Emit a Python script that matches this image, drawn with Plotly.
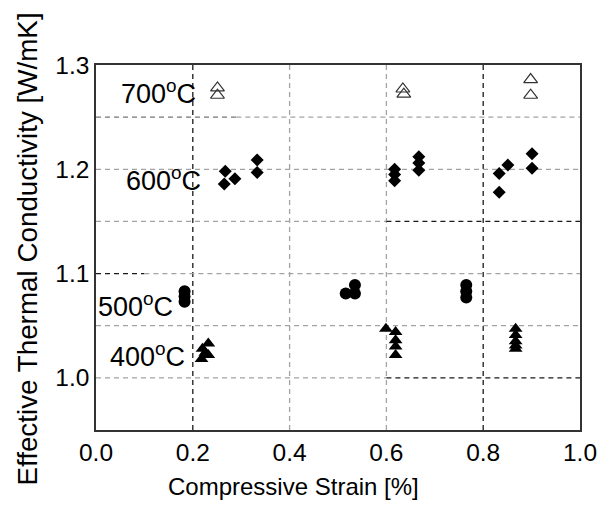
import plotly.graph_objects as go

# ---- data ----
t700_x = [0.251, 0.251, 0.634, 0.636, 0.898, 0.898]
t700_y = [1.278, 1.271, 1.277, 1.272, 1.286, 1.271]

t600_x = [0.267, 0.287, 0.265, 0.333, 0.333, 0.617, 0.617, 0.617,
          0.667, 0.667, 0.667, 0.833, 0.851, 0.833, 0.901, 0.901]
t600_y = [1.198, 1.191, 1.186, 1.209, 1.197, 1.200, 1.195, 1.189,
          1.212, 1.206, 1.199, 1.196, 1.204, 1.178, 1.215, 1.201]

t500_x = [0.183, 0.183, 0.183, 0.516, 0.535, 0.535, 0.765, 0.765, 0.765]
t500_y = [1.083, 1.078, 1.073, 1.081, 1.089, 1.081, 1.089, 1.083, 1.077]

t400_x = [0.220, 0.232, 0.218, 0.232, 0.226, 0.599, 0.619, 0.619, 0.619, 0.619,
          0.867, 0.867, 0.867, 0.867, 0.867]
t400_y = [1.028, 1.033, 1.018, 1.022, 1.024, 1.047, 1.044, 1.036, 1.030, 1.022,
          1.047, 1.041, 1.035, 1.031, 1.028]

x_ticks = [0.0, 0.2, 0.4, 0.6, 0.8, 1.0]
y_ticks = [1.0, 1.1, 1.2, 1.3]

labels = ["700<sup>o</sup>C", "600<sup>o</sup>C", "500<sup>o</sup>C", "400<sup>o</sup>C"]
label_x = [0.130, 0.140, 0.082, 0.106]
label_y = [1.274, 1.191, 1.070, 1.022]

# ---- style ----
FONT = "Liberation Sans, Arial, sans-serif"
GRAY = "#a3a3a3"
DARK = "#1a1a1a"

fig = go.Figure()

fig.add_trace(go.Scatter(x=t700_x, y=t700_y, mode="markers",
                         marker=dict(symbol="triangle-up-open", size=12,
                                     color="#333333", line=dict(width=1.2))))
fig.add_trace(go.Scatter(x=t600_x, y=t600_y, mode="markers",
                         marker=dict(symbol="diamond", size=10, color="black")))
fig.add_trace(go.Scatter(x=t500_x, y=t500_y, mode="markers",
                         marker=dict(symbol="circle", size=12, color="black")))
fig.add_trace(go.Scatter(x=t400_x, y=t400_y, mode="markers",
                         marker=dict(symbol="triangle-up", size=12, color="black")))

# dashed grid: (orientation, position, start, end, colour)
grid = [
    ("v", 0.2, 0.95, 1.3, DARK), ("v", 0.4, 0.95, 1.3, GRAY),
    ("v", 0.6, 0.95, 1.3, GRAY), ("v", 0.8, 0.95, 1.3, DARK),
    ("h", 1.25, 0.0, 0.29, "#777777"), ("h", 1.25, 0.29, 1.0, GRAY),
    ("h", 1.2, 0.0, 1.0, GRAY),
    ("h", 1.15, 0.0, 0.6, GRAY), ("h", 1.15, 0.6, 1.0, DARK),
    ("h", 1.1, 0.0, 0.1, DARK), ("h", 1.1, 0.1, 1.0, GRAY),
    ("h", 1.05, 0.0, 1.0, GRAY),
    ("h", 1.0, 0.0, 0.6, GRAY), ("h", 1.0, 0.6, 1.0, DARK),
]
for o, p, a, b, c in grid:
    if o == "v":
        fig.add_shape(type="line", x0=p, x1=p, y0=a, y1=b, layer="below",
                      line=dict(color=c, width=1.3, dash="5px,4px"))
    else:
        fig.add_shape(type="line", y0=p, y1=p, x0=a, x1=b, layer="below",
                      line=dict(color=c, width=1.3, dash="5px,4px"))

for t, x, y in zip(labels, label_x, label_y):
    fig.add_annotation(x=x, y=y, text=t, showarrow=False, xanchor="center",
                       yanchor="middle", font=dict(size=27, color="black", family=FONT))

fig.add_annotation(xref="paper", yref="paper", x=0.409, y=-0.155, text="Compressive Strain [%]",
                   showarrow=False, xanchor="center", yanchor="middle",
                   font=dict(size=24, color="black", family=FONT))
fig.add_annotation(xref="paper", yref="paper", x=-0.142, y=0.495,
                   text="Effective Thermal Conductivity [W/mK]", textangle=-90,
                   showarrow=False, xanchor="center", yanchor="middle",
                   font=dict(size=27.8, color="black", family=FONT))

axis_common = dict(showgrid=False, zeroline=False, showline=True, mirror=True,
                   linecolor="#333333", linewidth=1.5, ticks="",
                   tickfont=dict(size=24.5, color="black", family=FONT))
fig.update_xaxes(range=[0, 1], tickvals=x_ticks, tickformat=".1f", **axis_common)
fig.update_yaxes(range=[0.95, 1.3], tickvals=y_ticks, tickformat=".1f", **axis_common)

# page body adds an 8px margin, so the figure is 8px smaller on each side
fig.update_layout(
    width=601, height=499, autosize=False,
    margin=dict(l=88, r=26, t=57, b=77),
    paper_bgcolor="white", plot_bgcolor="white",
    showlegend=False,
    font=dict(family=FONT, color="black"),
)

fig.write_html("out.html")
